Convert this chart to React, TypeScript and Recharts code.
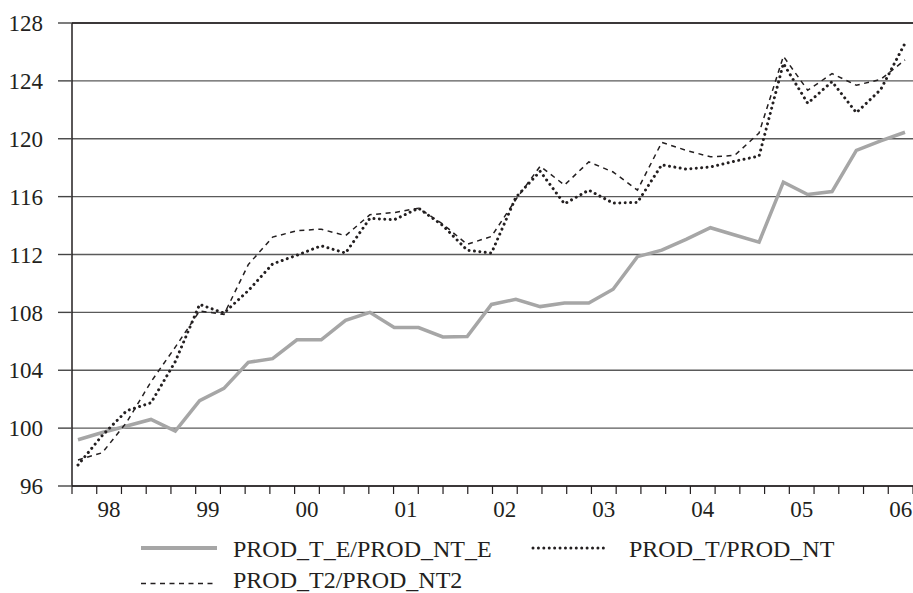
import React from 'react';
import { LineChart, Line, XAxis, YAxis, CartesianGrid, Legend, ReferenceLine } from 'recharts';

const quarters = [
  '97Q4',
  '98Q1', '98Q2', '98Q3', '98Q4',
  '99Q1', '99Q2', '99Q3', '99Q4',
  '00Q1', '00Q2', '00Q3', '00Q4',
  '01Q1', '01Q2', '01Q3', '01Q4',
  '02Q1', '02Q2', '02Q3', '02Q4',
  '03Q1', '03Q2', '03Q3', '03Q4',
  '04Q1', '04Q2', '04Q3', '04Q4',
  '05Q1', '05Q2', '05Q3', '05Q4',
  '06Q1', '06Q2',
];

const prodTE = [
  99.2, 99.7, 100.15, 100.6, 99.8, 101.9, 102.75, 104.55, 104.8, 106.1,
  106.1, 107.45, 108.0, 106.95, 106.95, 106.3, 106.33, 108.55, 108.9, 108.4,
  108.65, 108.65, 109.6, 111.85, 112.3, 113.05, 113.85, 113.35, 112.85, 117.0,
  116.15, 116.35, 119.2, 119.85, 120.45,
];

const prodT = [
  97.45, 99.5, 101.2, 101.75, 104.6, 108.55, 107.95, 109.5, 111.35, 111.95,
  112.6, 112.1, 114.5, 114.4, 115.2, 114.0, 112.3, 112.1, 115.95, 117.75,
  115.5, 116.45, 115.55, 115.6, 118.2, 117.9, 118.05, 118.45, 118.8, 125.2,
  122.45, 123.95, 121.8, 123.4, 126.6,
];

const prodT2 = [
  97.8, 98.3, 100.4, 103.2, 105.6, 108.1, 107.85, 111.3, 113.2, 113.65,
  113.75, 113.3, 114.75, 114.9, 115.2, 114.1, 112.7, 113.25, 115.8, 118.1,
  116.8, 118.4, 117.7, 116.45, 119.75, 119.2, 118.75, 118.85, 120.4, 125.7,
  123.35, 124.5, 123.7, 124.1, 125.45,
];

const yearLabels = ['98', '99', '00', '01', '02', '03', '04', '05', '06'];
const yTicks = [96, 100, 104, 108, 112, 116, 120, 124, 128];
const seriesNames = ['PROD_T_E/PROD_NT_E', 'PROD_T/PROD_NT', 'PROD_T2/PROD_NT2'];

const data = quarters.map((q, i) => ({ q, te: prodTE[i], t: prodT[i], t2: prodT2[i] }));

const FONT = 'Liberation Serif';
const INK = '#231f20';

// Year label sits between the tick of the year's first quarter and the next tick
const YearTick = (props: any) => {
  const { x, y, index, visibleTicksCount } = props;
  if ((index - 1) % 4 !== 0) return null;
  const label = yearLabels[(index - 1) / 4];
  if (!label) return null;
  const count = visibleTicksCount || quarters.length;
  const half = 841 / (count - 1) / 2;
  return (
    <text x={x + half} y={y} dy="0.71em" textAnchor="middle" fontFamily={FONT} fontSize={23} fill={INK}>
      {label}
    </text>
  );
};

const LegendContent = () => (
  <svg width={913} height={73} style={{ display: 'block', overflow: 'visible' }}>
    <line x1={141} x2={217} y1={28} y2={28} stroke="#a6a6a6" strokeWidth={4} />
    <text x={233} y={36.5} fontFamily={FONT} fontSize={24} fill={INK}>{seriesNames[0]}</text>
    <line x1={533} x2={608} y1={28} y2={28} stroke={INK} strokeWidth={3} strokeDasharray="0.01 5.4" strokeLinecap="round" />
    <text x={629} y={36.5} fontFamily={FONT} fontSize={24} fill={INK}>{seriesNames[1]}</text>
    <line x1={141} x2={217} y1={63.5} y2={63.5} stroke={INK} strokeWidth={1.5} strokeDasharray="5 4.5" />
    <text x={233} y={68} fontFamily={FONT} fontSize={24} fill={INK}>{seriesNames[2]}</text>
  </svg>
);

export default function App() {
  return (
    <div style={{ position: 'absolute', left: 0, top: 0, background: '#fff' }}>
      <LineChart
        width={913}
        height={593}
        data={data}
        margin={{ top: 23, right: 0, bottom: 67, left: 0 }}
      >
        <CartesianGrid
          xAxisId="qt"
          yAxisId="y"
          vertical={false}
          stroke="#5a5a5a"
          strokeWidth={1.4}
        />
        <XAxis
          xAxisId="cat"
          dataKey="q"
          type="category"
          scale="point"
          hide
          height={0}
          padding={{ left: 6, right: 8 }}
        />
        <XAxis
          xAxisId="qt"
          dataKey="q"
          type="category"
          scale="point"
          interval={0}
          height={40}
          tickSize={8}
          tickMargin={7}
          axisLine={{ stroke: INK, strokeWidth: 1.5 }}
          tickLine={{ stroke: INK, strokeWidth: 1.2 }}
          tick={<YearTick />}
        />
        <YAxis
          yAxisId="y"
          domain={[96, 128]}
          ticks={yTicks}
          interval={0}
          allowDataOverflow
          width={72}
          tickSize={14}
          tickMargin={15}
          axisLine={{ stroke: INK, strokeWidth: 1.5 }}
          tickLine={{ stroke: '#444', strokeWidth: 1.4 }}
          tick={{ fontFamily: FONT, fontSize: 23, fill: INK }}
        />
        <ReferenceLine xAxisId="qt" yAxisId="y" y={128} stroke={INK} strokeWidth={1.5} />
        <Line
          xAxisId="cat"
          yAxisId="y"
          dataKey="te"
          name={seriesNames[0]}
          stroke="#a6a6a6"
          strokeWidth={3.5}
          dot={false}
          activeDot={false}
          isAnimationActive={false}
        />
        <Line
          xAxisId="cat"
          yAxisId="y"
          dataKey="t"
          name={seriesNames[1]}
          stroke={INK}
          strokeWidth={3}
          strokeDasharray="0.01 5.4"
          strokeLinecap="round"
          dot={false}
          activeDot={false}
          isAnimationActive={false}
        />
        <Line
          xAxisId="cat"
          yAxisId="y"
          dataKey="t2"
          name={seriesNames[2]}
          stroke={INK}
          strokeWidth={1.5}
          strokeDasharray="5 4.5"
          dot={false}
          activeDot={false}
          isAnimationActive={false}
        />
        <Legend
          layout="horizontal"
          verticalAlign="middle"
          align="center"
          content={<LegendContent />}
          wrapperStyle={{ position: 'absolute', top: 520, left: 0, width: 913, height: 73 }}
        />
      </LineChart>
    </div>
  );
}
